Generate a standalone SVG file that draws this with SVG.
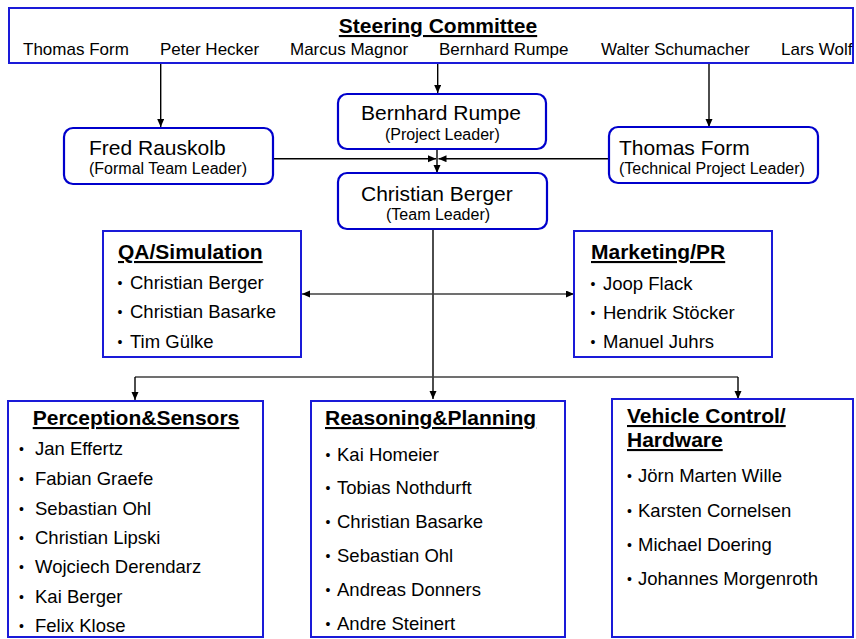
<svg xmlns="http://www.w3.org/2000/svg" width="856" height="639" viewBox="0 0 856 639">
<style>
text{font-family:"Liberation Sans",Arial,sans-serif;fill:#000}
.ttl{font-size:21px;font-weight:bold;text-decoration:underline}
.nm{font-size:17px}
.big{font-size:21px}
.sub{font-size:16px}
.b{font-size:18.5px}
.dot{font-size:14px}
.rbox{fill:#fff;stroke:#0000cc;stroke-width:2.2}
.sbox{fill:#fff;stroke:#1a1ad8;stroke-width:2}
.ln{fill:none;stroke:#000;stroke-width:1.4}
.ln2{fill:none;stroke:#404040;stroke-width:1.6}
</style>
<defs>
<marker id="ah" markerUnits="userSpaceOnUse" markerWidth="9" markerHeight="8" refX="8" refY="3.5" orient="auto-start-reverse">
<path d="M0,0 L8,3.5 L0,7 z" fill="#000"/>
</marker>
</defs>
<g id="connectors">
<path class="ln" d="M160.7 63 V127" marker-end="url(#ah)"/>
<path class="ln" d="M437.7 63 V93" marker-end="url(#ah)"/>
<path class="ln" d="M709 63 V127" marker-end="url(#ah)"/>
<path class="ln" d="M273 158.7 H436" marker-end="url(#ah)"/>
<path class="ln" d="M609 158.7 H438.5" marker-end="url(#ah)"/>
<path class="ln" d="M437 149 V173" marker-end="url(#ah)"/>
<path class="ln" d="M433 229 V399" marker-end="url(#ah)"/>
<path class="ln2" d="M302 294 H574" marker-start="url(#ah)" marker-end="url(#ah)"/>
<path class="ln2" d="M135 377 H738"/>
<path class="ln" d="M135 377 V400" marker-end="url(#ah)"/>
<path class="ln" d="M738 377 V399" marker-end="url(#ah)"/>
</g>
<g id="steering">
<rect class="sbox" x="9" y="8" width="844" height="55"/>
<text class="ttl" x="438" y="33" text-anchor="middle">Steering Committee</text>
<text class="nm" x="23" y="55">Thomas Form</text>
<text class="nm" x="160" y="55">Peter Hecker</text>
<text class="nm" x="290" y="55">Marcus Magnor</text>
<text class="nm" x="439" y="55">Bernhard Rumpe</text>
<text class="nm" x="601" y="55">Walter Schumacher</text>
<text class="nm" x="781" y="55">Lars Wolf</text>
</g>
<g id="bernhard">
<rect class="rbox" x="338" y="94" width="208" height="55" rx="9"/>
<text class="big" x="361" y="120">Bernhard Rumpe</text>
<text class="sub" x="385" y="140">(Project Leader)</text>
</g>
<g id="fred">
<rect class="rbox" x="64" y="128" width="209" height="56" rx="9"/>
<text class="big" x="89" y="155">Fred Rauskolb</text>
<text class="sub" x="89" y="174">(Formal Team Leader)</text>
</g>
<g id="thomas">
<rect class="rbox" x="609" y="127" width="209" height="56" rx="9"/>
<text class="big" x="619" y="155">Thomas Form</text>
<text class="sub" x="619" y="174">(Technical Project Leader)</text>
</g>
<g id="christian">
<rect class="rbox" x="338" y="173" width="209" height="56" rx="9"/>
<text class="big" x="361" y="201">Christian Berger</text>
<text class="sub" x="386" y="220">(Team Leader)</text>
</g>
<g id="qa">
<rect class="sbox" x="103" y="231" width="198" height="126"/>
<text class="ttl" x="118" y="259">QA/Simulation</text>
<text class="b"><tspan class="dot" x="117.5" y="288">•</tspan><tspan x="130" y="289">Christian Berger</tspan></text>
<text class="b"><tspan class="dot" x="117.5" y="317">•</tspan><tspan x="130" y="318">Christian Basarke</tspan></text>
<text class="b"><tspan class="dot" x="117.5" y="347">•</tspan><tspan x="130" y="348">Tim Gülke</tspan></text>
</g>
<g id="marketing">
<rect class="sbox" x="574" y="231" width="198" height="126"/>
<text class="ttl" x="591" y="259">Marketing/PR</text>
<text class="b"><tspan class="dot" x="590.5" y="289">•</tspan><tspan x="603" y="290">Joop Flack</tspan></text>
<text class="b"><tspan class="dot" x="590.5" y="318">•</tspan><tspan x="603" y="319">Hendrik Stöcker</tspan></text>
<text class="b"><tspan class="dot" x="590.5" y="347">•</tspan><tspan x="603" y="348">Manuel Juhrs</tspan></text>
</g>
<g id="perception">
<rect class="sbox" x="8" y="401" width="255" height="236"/>
<text class="ttl" x="136" y="425" text-anchor="middle">Perception&amp;Sensors</text>
<text class="b"><tspan class="dot" x="19" y="454">•</tspan><tspan x="35" y="455">Jan Effertz</tspan></text>
<text class="b"><tspan class="dot" x="19" y="484">•</tspan><tspan x="35" y="485">Fabian Graefe</tspan></text>
<text class="b"><tspan class="dot" x="19" y="514">•</tspan><tspan x="35" y="515">Sebastian Ohl</tspan></text>
<text class="b"><tspan class="dot" x="19" y="543">•</tspan><tspan x="35" y="544">Christian Lipski</tspan></text>
<text class="b"><tspan class="dot" x="19" y="572">•</tspan><tspan x="35" y="573">Wojciech Derendarz</tspan></text>
<text class="b"><tspan class="dot" x="19" y="602">•</tspan><tspan x="35" y="603">Kai Berger</tspan></text>
<text class="b"><tspan class="dot" x="19" y="631">•</tspan><tspan x="35" y="632">Felix Klose</tspan></text>
</g>
<g id="reasoning">
<rect class="sbox" x="311" y="401" width="254" height="236"/>
<text class="ttl" x="325" y="425">Reasoning&amp;Planning</text>
<text class="b"><tspan class="dot" x="325.5" y="460">•</tspan><tspan x="337" y="461">Kai Homeier</tspan></text>
<text class="b"><tspan class="dot" x="325.5" y="493">•</tspan><tspan x="337" y="494">Tobias Nothdurft</tspan></text>
<text class="b"><tspan class="dot" x="325.5" y="527">•</tspan><tspan x="337" y="528">Christian Basarke</tspan></text>
<text class="b"><tspan class="dot" x="325.5" y="561">•</tspan><tspan x="337" y="562">Sebastian Ohl</tspan></text>
<text class="b"><tspan class="dot" x="325.5" y="595">•</tspan><tspan x="337" y="596">Andreas Donners</tspan></text>
<text class="b"><tspan class="dot" x="325.5" y="629">•</tspan><tspan x="337" y="630">Andre Steinert</tspan></text>
</g>
<g id="vehicle">
<rect class="sbox" x="612" y="399" width="241" height="238"/>
<text class="ttl" x="627" y="423">Vehicle Control/</text>
<text class="ttl" x="627" y="447">Hardware</text>
<text class="b"><tspan class="dot" x="627" y="481">•</tspan><tspan x="638" y="482">Jörn Marten Wille</tspan></text>
<text class="b"><tspan class="dot" x="627" y="516">•</tspan><tspan x="638" y="517">Karsten Cornelsen</tspan></text>
<text class="b"><tspan class="dot" x="627" y="550">•</tspan><tspan x="638" y="551">Michael Doering</tspan></text>
<text class="b"><tspan class="dot" x="627" y="584">•</tspan><tspan x="638" y="585">Johannes Morgenroth</tspan></text>
</g>
</svg>
